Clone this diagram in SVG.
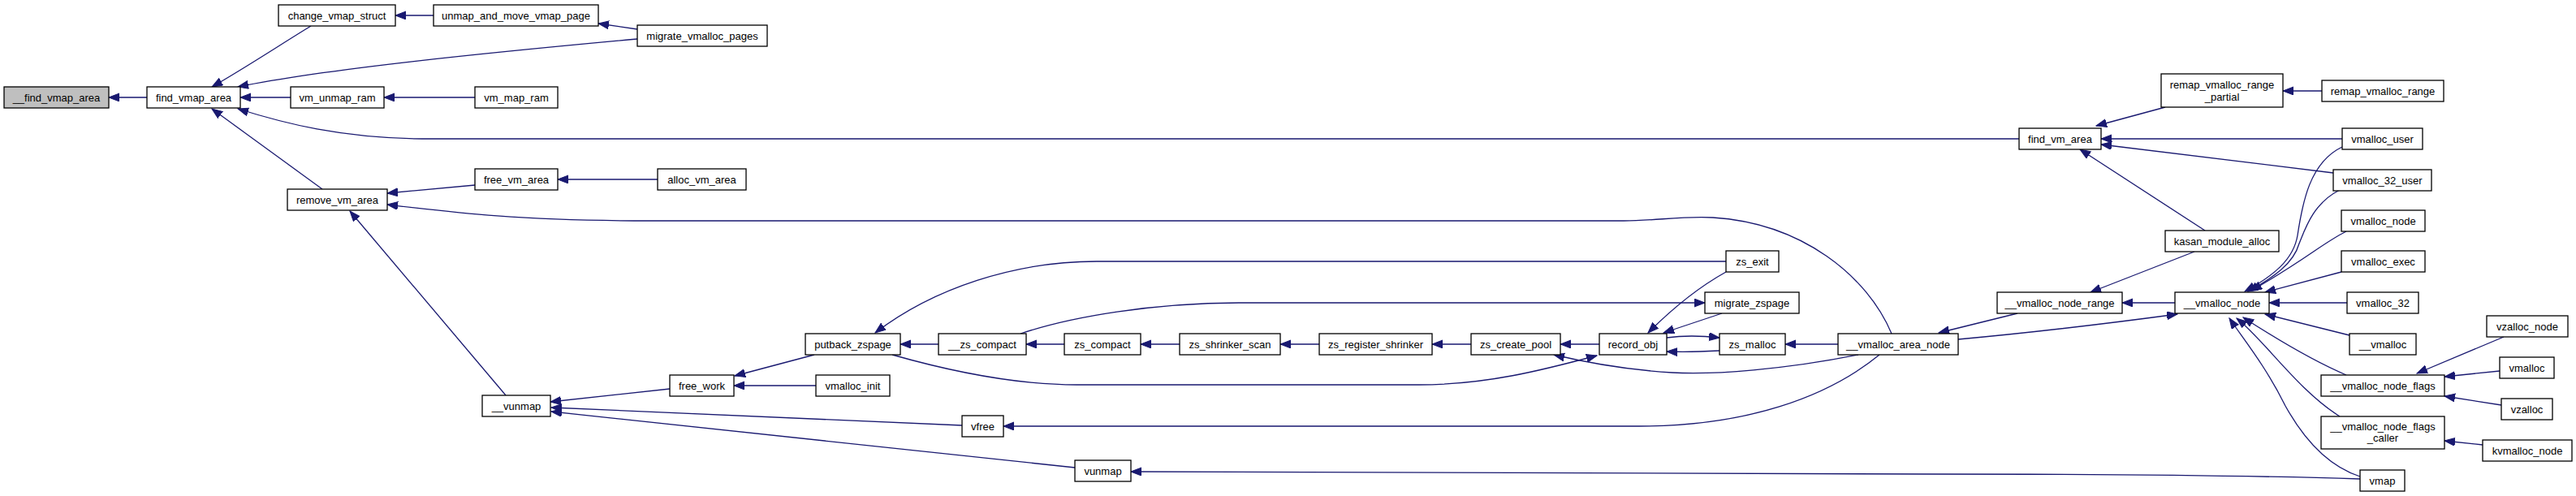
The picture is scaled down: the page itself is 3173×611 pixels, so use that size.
<svg xmlns="http://www.w3.org/2000/svg" width="3173" height="611" viewBox="0 0 3173 611">
<style>
.n rect{fill:#fff;stroke:#000;stroke-width:1.3}
.g rect{fill:#bfbfbf}
text{font-family:"Liberation Sans",Arial,sans-serif;font-size:13px;fill:#000;text-anchor:middle}
#edges path{fill:none;stroke:#191970;stroke-width:1.3;marker-end:url(#ah)}
</style>
<defs>
<marker id="ah" markerUnits="userSpaceOnUse" markerWidth="15" markerHeight="12" refX="13" refY="5" orient="auto"><path d="M0,0 L13,5 L0,10 z" fill="#191970" stroke="#191970" stroke-width="1"/></marker>
</defs>
<rect width="3173" height="611" fill="#fff"/>
<g id="edges">
<path d="M181,120 L134,120"/>
<path d="M383,32 C350,52 300,85 261,107"/>
<path d="M534,19 L487,19"/>
<path d="M785,36 L737,29"/>
<path d="M785,48 C600,65 400,85 293,107"/>
<path d="M358,120 L296,120"/>
<path d="M585,120 L473,120"/>
<path d="M2487,171 L520,171 C420,170 350,152 293,134"/>
<path d="M397,233 L261,134"/>
<path d="M585,228 L477,238"/>
<path d="M810,221 L687,221"/>
<path d="M2330,411 C2300,340 2220,275 2110,268 C2070,266 2040,272 2000,272 L800,272 C640,272 560,262 477,252"/>
<path d="M623,487 L431,260"/>
<path d="M825,479 L678,495"/>
<path d="M1185,524 L679,502"/>
<path d="M1324,576 L679,507"/>
<path d="M1003,437 L905,463"/>
<path d="M1005,475 L904,475"/>
<path d="M2126,322 L1351,322 C1250,322 1150,355 1078,410"/>
<path d="M2126,335 C2090,355 2060,380 2030,410"/>
<path d="M1257,411 C1320,390 1420,373 1530,373 L2100,373"/>
<path d="M2121,386 L2049,410"/>
<path d="M1156,424 L1109,424"/>
<path d="M1311,424 L1264,424"/>
<path d="M1453,424 L1405,424"/>
<path d="M1625,424 L1577,424"/>
<path d="M1812,424 L1764,424"/>
<path d="M1970,424 L1922,424"/>
<path d="M1099,437 C1180,460 1260,474 1326,474 L1748,474 C1830,474 1900,456 1967,438"/>
<path d="M2289,437 C2200,455 2110,462 2060,459 C2010,456 1960,448 1914,437"/>
<path d="M2053,416 C2075,413 2100,414 2118,416"/>
<path d="M2118,432 C2100,433 2075,434 2053,433"/>
<path d="M2264,424 L2199,424"/>
<path d="M2315,437 C2250,490 2150,525 2019,525 L1236,525"/>
<path d="M2907,590 C2750,585 2550,584 2370,584 L1393,581"/>
<path d="M2667,132 L2582,155"/>
<path d="M2860,112 L2812,112"/>
<path d="M2885,171 L2588,171"/>
<path d="M2874,213 L2588,178"/>
<path d="M2716,284 L2562,184"/>
<path d="M2703,310 L2575,360"/>
<path d="M2485,386 L2388,410"/>
<path d="M2679,373 L2614,373"/>
<path d="M2412,418 C2500,410 2600,398 2682,387"/>
<path d="M2885,181 C2845,200 2836,250 2830,290 C2825,320 2800,340 2765,359"/>
<path d="M2882,234 C2850,250 2840,280 2832,300 C2825,325 2800,342 2769,359"/>
<path d="M2890,285 C2860,300 2840,320 2773,358"/>
<path d="M2884,335 L2790,360"/>
<path d="M2891,373 L2795,373"/>
<path d="M2894,413 L2790,387"/>
<path d="M2890,462 C2850,445 2800,415 2763,391"/>
<path d="M2882,513 C2830,480 2790,420 2755,392"/>
<path d="M2907,587 C2870,575 2840,545 2815,500 C2790,450 2765,420 2746,392"/>
<path d="M3084,415 L2977,460"/>
<path d="M3079,457 L3011,464"/>
<path d="M3081,499 L3011,488"/>
<path d="M3058,548 L3011,543"/>
</g>
<g id="n0" class="n g"><rect x="5" y="107" width="129" height="26"/><text x="69.5" y="124.5">__find_vmap_area</text></g>
<g id="n1" class="n"><rect x="181" y="107" width="115" height="26"/><text x="238.5" y="124.5">find_vmap_area</text></g>
<g id="n2" class="n"><rect x="343" y="6" width="144" height="26"/><text x="415" y="23.5">change_vmap_struct</text></g>
<g id="n3" class="n"><rect x="534" y="6" width="203" height="26"/><text x="635.5" y="23.5">unmap_and_move_vmap_page</text></g>
<g id="n4" class="n"><rect x="785" y="31" width="160" height="26"/><text x="865" y="48.5">migrate_vmalloc_pages</text></g>
<g id="n5" class="n"><rect x="358" y="107" width="115" height="26"/><text x="415.5" y="124.5">vm_unmap_ram</text></g>
<g id="n6" class="n"><rect x="585" y="107" width="102" height="26"/><text x="636" y="124.5">vm_map_ram</text></g>
<g id="n7" class="n"><rect x="585" y="208" width="102" height="26"/><text x="636" y="225.5">free_vm_area</text></g>
<g id="n8" class="n"><rect x="354" y="233" width="123" height="26"/><text x="415.5" y="250.5">remove_vm_area</text></g>
<g id="n9" class="n"><rect x="810" y="208" width="109" height="26"/><text x="864.5" y="225.5">alloc_vm_area</text></g>
<g id="n10" class="n"><rect x="594" y="487" width="84" height="26"/><text x="636" y="504.5">__vunmap</text></g>
<g id="n11" class="n"><rect x="992" y="411" width="117" height="26"/><text x="1050.5" y="428.5">putback_zspage</text></g>
<g id="n12" class="n"><rect x="825" y="462" width="79" height="26"/><text x="864.5" y="479.5">free_work</text></g>
<g id="n13" class="n"><rect x="1005" y="462" width="91" height="26"/><text x="1050.5" y="479.5">vmalloc_init</text></g>
<g id="n14" class="n"><rect x="1156" y="411" width="108" height="26"/><text x="1210" y="428.5">__zs_compact</text></g>
<g id="n15" class="n"><rect x="1311" y="411" width="94" height="26"/><text x="1358" y="428.5">zs_compact</text></g>
<g id="n16" class="n"><rect x="1453" y="411" width="124" height="26"/><text x="1515" y="428.5">zs_shrinker_scan</text></g>
<g id="n17" class="n"><rect x="1185" y="512" width="51" height="26"/><text x="1210.5" y="529.5">vfree</text></g>
<g id="n18" class="n"><rect x="1324" y="567" width="69" height="26"/><text x="1358.5" y="584.5">vunmap</text></g>
<g id="n19" class="n"><rect x="1625" y="411" width="139" height="26"/><text x="1694.5" y="428.5">zs_register_shrinker</text></g>
<g id="n20" class="n"><rect x="1812" y="411" width="110" height="26"/><text x="1867" y="428.5">zs_create_pool</text></g>
<g id="n21" class="n"><rect x="1970" y="411" width="83" height="26"/><text x="2011.5" y="428.5">record_obj</text></g>
<g id="n22" class="n"><rect x="2126" y="309" width="65" height="26"/><text x="2158.5" y="326.5">zs_exit</text></g>
<g id="n23" class="n"><rect x="2100" y="360" width="116" height="26"/><text x="2158" y="377.5">migrate_zspage</text></g>
<g id="n24" class="n"><rect x="2118" y="411" width="81" height="26"/><text x="2158.5" y="428.5">zs_malloc</text></g>
<g id="n25" class="n"><rect x="2264" y="411" width="148" height="26"/><text x="2338" y="428.5">__vmalloc_area_node</text></g>
<g id="n26" class="n"><rect x="2487" y="158" width="101" height="26"/><text x="2537.5" y="175.5">find_vm_area</text></g>
<g id="n27" class="n"><rect x="2662" y="91" width="150" height="41"/><text x="2737" y="108.5">remap_vmalloc_range</text><text x="2737" y="123.5">_partial</text></g>
<g id="n28" class="n"><rect x="2860" y="99" width="150" height="26"/><text x="2935" y="116.5">remap_vmalloc_range</text></g>
<g id="n29" class="n"><rect x="2885" y="158" width="99" height="26"/><text x="2934.5" y="175.5">vmalloc_user</text></g>
<g id="n30" class="n"><rect x="2874" y="209" width="121" height="26"/><text x="2934.5" y="226.5">vmalloc_32_user</text></g>
<g id="n31" class="n"><rect x="2884" y="259" width="103" height="26"/><text x="2935.5" y="276.5">vmalloc_node</text></g>
<g id="n32" class="n"><rect x="2667" y="284" width="140" height="26"/><text x="2737" y="301.5">kasan_module_alloc</text></g>
<g id="n33" class="n"><rect x="2884" y="309" width="103" height="26"/><text x="2935.5" y="326.5">vmalloc_exec</text></g>
<g id="n34" class="n"><rect x="2460" y="360" width="154" height="26"/><text x="2537" y="377.5">__vmalloc_node_range</text></g>
<g id="n35" class="n"><rect x="2679" y="360" width="116" height="26"/><text x="2737" y="377.5">__vmalloc_node</text></g>
<g id="n36" class="n"><rect x="2891" y="360" width="88" height="26"/><text x="2935" y="377.5">vmalloc_32</text></g>
<g id="n37" class="n"><rect x="2894" y="411" width="82" height="26"/><text x="2935" y="428.5">__vmalloc</text></g>
<g id="n38" class="n"><rect x="3063" y="389" width="100" height="26"/><text x="3113" y="406.5">vzalloc_node</text></g>
<g id="n39" class="n"><rect x="3079" y="440" width="67" height="26"/><text x="3112.5" y="457.5">vmalloc</text></g>
<g id="n40" class="n"><rect x="3081" y="491" width="63" height="26"/><text x="3112.5" y="508.5">vzalloc</text></g>
<g id="n41" class="n"><rect x="2859" y="462" width="152" height="26"/><text x="2935" y="479.5">__vmalloc_node_flags</text></g>
<g id="n42" class="n"><rect x="2859" y="513" width="152" height="40"/><text x="2935" y="529.5">__vmalloc_node_flags</text><text x="2935" y="544">_caller</text></g>
<g id="n43" class="n"><rect x="3058" y="542" width="110" height="26"/><text x="3113" y="559.5">kvmalloc_node</text></g>
<g id="n44" class="n"><rect x="2907" y="579" width="55" height="26"/><text x="2934.5" y="596.5">vmap</text></g>
</svg>
